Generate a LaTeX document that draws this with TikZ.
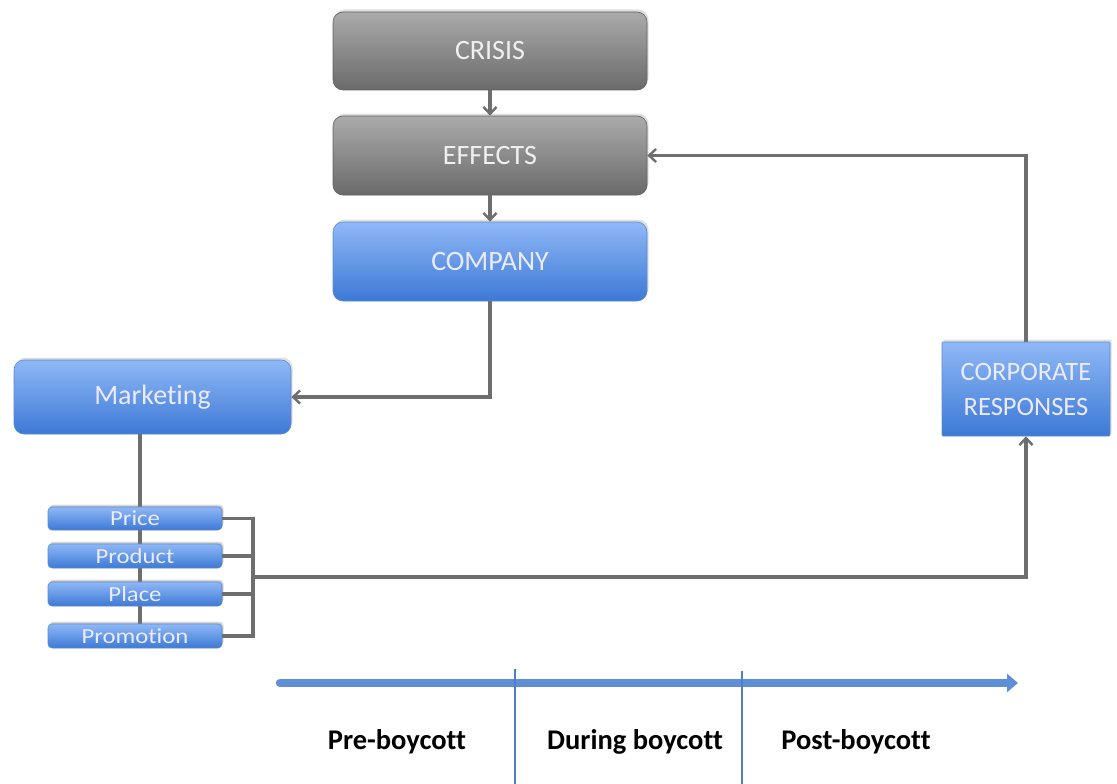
\documentclass[tikz,border=0pt]{standalone}
\usepackage{fontspec}
\setmainfont{Carlito}[Ligatures=NoCommon]
\usetikzlibrary{arrows.meta,shadows,calc}

\definecolor{greytop}{HTML}{ABABAB}
\definecolor{greybot}{HTML}{6A6A6A}
\definecolor{bluetop}{HTML}{8FB8F6}
\definecolor{bluebot}{HTML}{3D79D6}
\definecolor{blueedge}{HTML}{5A8AD0}
\definecolor{wire}{HTML}{6E6E6E}
\definecolor{axis}{HTML}{5E8FD6}
\definecolor{divider}{HTML}{4F7FC4}

\tikzset{
  box/.style={rounded corners=10pt, inner sep=0pt, align=center,
    drop shadow={shadow xshift=1.5pt, shadow yshift=2.5pt, opacity=0.25},
    font=\fontsize{28}{32}\selectfont},
  greybox/.style={box, draw=greybot!90!black, line width=0.6pt,
    top color=greytop, bottom color=greybot, text=white!94!black},
  bluebox/.style={box, draw=blueedge, line width=0.6pt,
    top color=bluetop, bottom color=bluebot, text=white!92!blue},
  mixbox/.style={bluebox, rounded corners=4pt, minimum width=174pt,
    minimum height=24pt, font=\fontsize{21.5}{22}\selectfont,
    drop shadow={shadow xshift=1pt, shadow yshift=1.5pt, opacity=0.25}},
  conn/.style={draw=wire, line width=3.4pt},
  tip/.style={-{Straight Barb[length=7pt,width=13pt,line width=2.4pt]}},
  phase/.style={font=\fontsize{28.5}{32}\selectfont\bfseries, text=black}
}

\begin{document}
\begin{tikzpicture}[x=1pt,y=-1pt]
\useasboundingbox (0,0) rectangle (1117,784);

% causal chain
\node[greybox, minimum width=314pt, minimum height=78pt] (crisis)  at (490,51)    {CRISIS};
\node[greybox, minimum width=314pt, minimum height=79pt] (effects) at (490,155.5) {EFFECTS};
\node[bluebox, minimum width=314pt, minimum height=79pt] (company) at (490,261.5) {COMPANY};

% marketing and its mix
\node[bluebox, minimum width=277pt, minimum height=74pt] (marketing) at (152.5,397) {Marketing};
\coordinate (mixline) at (140,500);
\draw[conn] (marketing.south -| mixline) -- (mixline |- 0,630);

\node[mixbox, minimum height=23pt] (price) at (135,518.5) {\scalebox{1.15}[1]{Price}};
\node[mixbox] (product)   at (135,556) {\scalebox{1.15}[1]{Product}};
\node[mixbox] (place)     at (135,594) {\scalebox{1.15}[1]{Place}};
\node[mixbox] (promotion) at (135,636) {\scalebox{1.15}[1]{Promotion}};

\node[bluebox, rounded corners=1pt, minimum width=168pt, minimum height=94pt,
      font=\fontsize{26.5}{35}\selectfont] (corporate) at (1026,389)
      {CORPORATE\\RESPONSES};

% connectors
\draw[conn, tip] (crisis) -- (effects);
\draw[conn, tip] (effects) -- (company);
\draw[conn, tip] (company.south) |- (marketing.east);

\coordinate (bus) at (253,577);
\draw[conn] (price.east) -| (bus) |- (promotion.east);
\draw[conn] (product.east) -- (product.east -| bus);
\draw[conn] (place.east) -- (place.east -| bus);
\draw[conn, tip] (bus) -| (corporate.south);
\draw[conn, tip] (corporate.north) |- (effects.east);

% timeline
\coordinate (tstart) at (280,683);
\coordinate (tend)   at (1018,683);
\draw[axis, line width=8.5pt, line cap=round,
      -{Triangle[length=11pt,width=18pt]}] (tstart) -- (tend);
\coordinate (d1top) at (515,669);
\coordinate (d1bot) at (515,784);
\coordinate (d2top) at (742,671);
\coordinate (d2bot) at (742,784);
\draw[divider, line width=2.2pt] (d1top) -- (d1bot);
\draw[divider, line width=2.2pt] (d2top) -- (d2bot);

\node[phase] (pre)    at (397,742) {Pre-boycott};
\node[phase] (during) at (635,742) {During boycott};
\node[phase] (post)   at (856,742) {Post-boycott};
\end{tikzpicture}
\end{document}
